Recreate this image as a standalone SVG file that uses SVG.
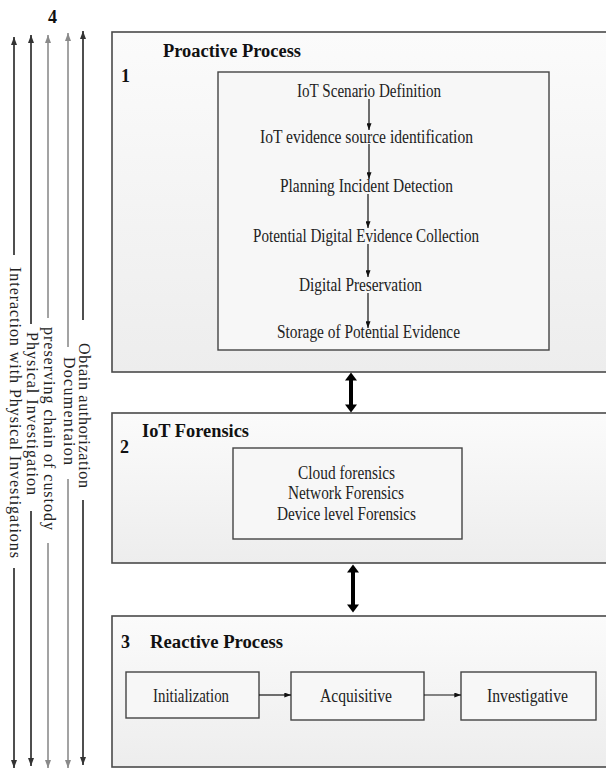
<svg xmlns="http://www.w3.org/2000/svg" width="606" height="769" viewBox="0 0 606 769">
  <defs>
    <linearGradient id="panelFill" x1="0" y1="0" x2="0" y2="1">
      <stop offset="0" stop-color="#fbfbfb"/>
      <stop offset="1" stop-color="#ededed"/>
    </linearGradient>
    <marker id="headDark" viewBox="0 0 8 6" refX="8" refY="3" markerWidth="8" markerHeight="6" markerUnits="userSpaceOnUse" orient="auto-start-reverse">
      <path d="M0,0 L8,3 L0,6 Z" fill="#333"/>
    </marker>
    <marker id="headGray" viewBox="0 0 8 6" refX="8" refY="3" markerWidth="8" markerHeight="6" markerUnits="userSpaceOnUse" orient="auto-start-reverse">
      <path d="M0,0 L8,3 L0,6 Z" fill="#8a8a8a"/>
    </marker>
    <marker id="headSmall" viewBox="0 0 8 6" refX="8" refY="3" markerWidth="7" markerHeight="5" markerUnits="userSpaceOnUse" orient="auto">
      <path d="M0,0 L8,3 L0,6 Z" fill="#111"/>
    </marker>
  </defs>
  <style>
    .panel { fill: url(#panelFill); stroke: #4a4a4a; stroke-width: 1.6; }
    .inner { fill: #f7f7f7; stroke: #444; stroke-width: 1.4; }
    .title { font-family: "Liberation Serif", "Times New Roman", serif; font-weight: bold; font-size: 18px; fill: #111; }
    .label { font-family: "Liberation Serif", "Times New Roman", serif; font-size: 18px; fill: #222; }
    .side { font-family: "Liberation Serif", "Times New Roman", serif; font-size: 16px; fill: #222; }
    .flow { stroke: #111; stroke-width: 1.2; fill: none; marker-end: url(#headSmall); }
    .rail-dark { stroke: #3c3c3c; stroke-width: 1.8; fill: none; }
    .rail-gray { stroke: #999; stroke-width: 1.8; fill: none; }
    .thick { fill: #000; }
  </style>

  <!-- Phase 1: proactive process -->
  <g id="proactive">
    <rect class="panel" x="112" y="32" width="510" height="340"/>
    <text class="title" x="121" y="82">1</text>
    <text class="title" x="163" y="57" textLength="138" lengthAdjust="spacingAndGlyphs">Proactive Process</text>
    <rect class="inner" x="218" y="72" width="331" height="278"/>
    <text class="label" x="297" y="97" textLength="144" lengthAdjust="spacingAndGlyphs">IoT Scenario Definition</text>
    <text class="label" x="260" y="143" textLength="213" lengthAdjust="spacingAndGlyphs">IoT evidence source identification</text>
    <text class="label" x="280" y="192" textLength="173" lengthAdjust="spacingAndGlyphs">Planning Incident Detection</text>
    <text class="label" x="253" y="242" textLength="226" lengthAdjust="spacingAndGlyphs">Potential Digital Evidence Collection</text>
    <text class="label" x="299" y="291" textLength="123" lengthAdjust="spacingAndGlyphs">Digital Preservation</text>
    <text class="label" x="277" y="338" textLength="183" lengthAdjust="spacingAndGlyphs">Storage of Potential Evidence</text>
  </g>

  <!-- Phase 2: IoT forensics -->
  <g id="iot-forensics">
    <rect class="panel" x="112" y="413" width="510" height="150"/>
    <text class="title" x="120" y="453">2</text>
    <text class="title" x="142" y="437" textLength="107" lengthAdjust="spacingAndGlyphs">IoT Forensics</text>
    <rect class="inner" x="233" y="448" width="229" height="91"/>
    <text class="label" x="298" y="479" textLength="97" lengthAdjust="spacingAndGlyphs">Cloud forensics</text>
    <text class="label" x="288" y="499" textLength="116" lengthAdjust="spacingAndGlyphs">Network Forensics</text>
    <text class="label" x="277" y="520" textLength="139" lengthAdjust="spacingAndGlyphs">Device level Forensics</text>
  </g>

  <!-- Phase 3: reactive process -->
  <g id="reactive">
    <rect class="panel" x="112" y="616" width="510" height="151"/>
    <text class="title" x="121" y="648">3</text>
    <text class="title" x="150" y="648" textLength="133" lengthAdjust="spacingAndGlyphs">Reactive Process</text>
  </g>
  <g id="initialization">
    <rect class="inner" x="126" y="672" width="133" height="46"/>
    <text class="label" x="153" y="702" textLength="76" lengthAdjust="spacingAndGlyphs">Initialization</text>
  </g>
  <g id="acquisitive">
    <rect class="inner" x="291" y="672" width="133" height="48"/>
    <text class="label" x="320" y="702" textLength="72" lengthAdjust="spacingAndGlyphs">Acquisitive</text>
  </g>
  <g id="investigative">
    <rect class="inner" x="461" y="672" width="135" height="48"/>
    <text class="label" x="487" y="702" textLength="81" lengthAdjust="spacingAndGlyphs">Investigative</text>
  </g>

  <!-- Phase 4: activities running across all phases -->
  <g id="overarching">
    <text class="title" x="48" y="23">4</text>
    <text class="side" transform="translate(10,267) rotate(90)" textLength="291" lengthAdjust="spacing">Interaction with Physical Investigations</text>
    <text class="side" transform="translate(27,332) rotate(90)" textLength="163" lengthAdjust="spacing">Physical Investigation</text>
    <text class="side" transform="translate(44,327) rotate(90)" textLength="203" lengthAdjust="spacing">preserving chain of custody</text>
    <text class="side" transform="translate(64,357) rotate(90)" textLength="108" lengthAdjust="spacing">Documentaion</text>
    <text class="side" transform="translate(79,343) rotate(90)" textLength="145" lengthAdjust="spacing">Obtain authorization</text>
  </g>

  <g id="connectors">
    <!-- side rails, split around their labels -->
    <path class="rail-dark" d="M14,255 V37" marker-end="url(#headDark)"/>
    <path class="rail-dark" d="M14,568 V768" marker-end="url(#headDark)"/>
    <path class="rail-dark" d="M31,324 V35" marker-end="url(#headDark)"/>
    <path class="rail-dark" d="M31,511 V766" marker-end="url(#headDark)"/>
    <path class="rail-gray" d="M48,318 V35" marker-end="url(#headGray)"/>
    <path class="rail-gray" d="M48,543 V768" marker-end="url(#headGray)"/>
    <path class="rail-gray" d="M68,347 V33" marker-end="url(#headGray)"/>
    <path class="rail-gray" d="M68,479 V768" marker-end="url(#headGray)"/>
    <path class="rail-dark" d="M83,320 V31" marker-end="url(#headDark)"/>
    <path class="rail-dark" d="M83,500 V765" marker-end="url(#headDark)"/>

    <!-- proactive steps -->
    <path class="flow" d="M369,99 V130"/>
    <path class="flow" d="M369,144 V179"/>
    <path class="flow" d="M368,194 V228"/>
    <path class="flow" d="M368,244 V277"/>
    <path class="flow" d="M368,293 V328"/>

    <!-- reactive steps -->
    <path class="flow" d="M259,695 H291"/>
    <path class="flow" d="M424,695 H461"/>

    <!-- links between phases -->
    <path class="thick" d="M351,372.5 L357,380.5 L353,380.5 L353,404.5 L357,404.5 L351,412.5 L345,404.5 L349,404.5 L349,380.5 L345,380.5 Z"/>
    <path class="thick" d="M353,564.5 L359,572.5 L355,572.5 L355,604.5 L359,604.5 L353,612.5 L347,604.5 L351,604.5 L351,572.5 L347,572.5 Z"/>
  </g>
</svg>
